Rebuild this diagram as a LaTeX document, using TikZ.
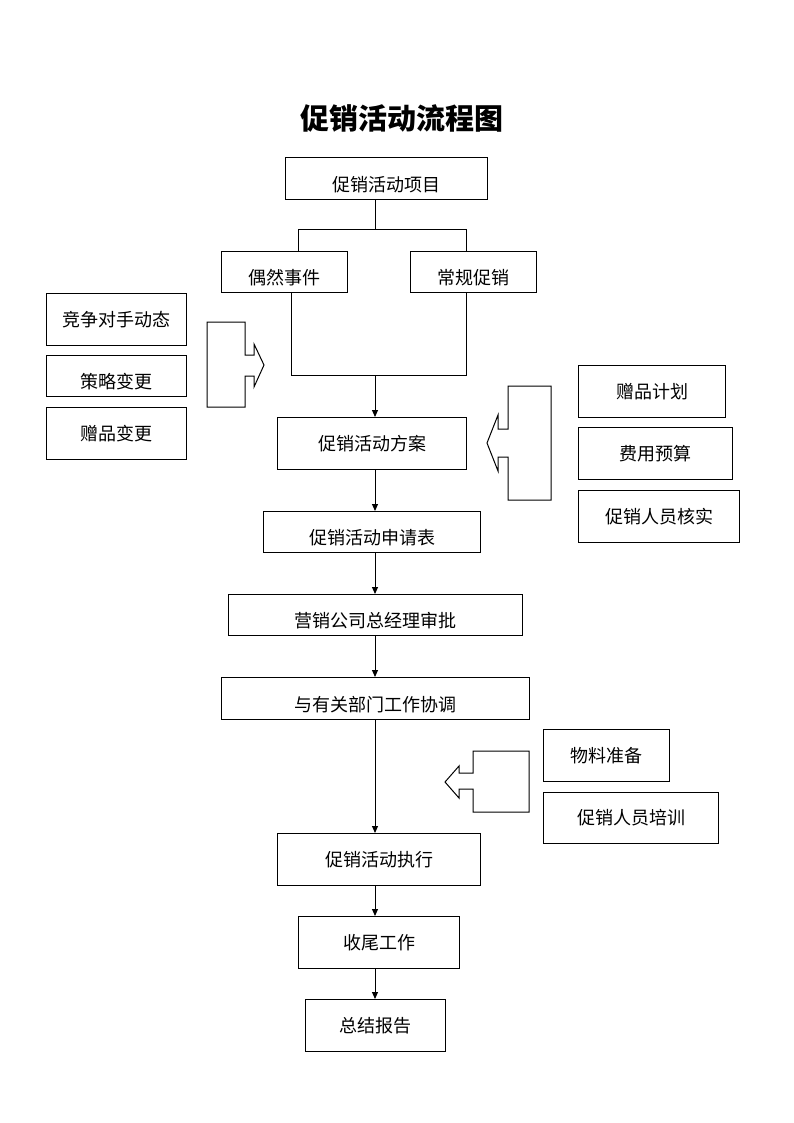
\documentclass[tikz,border=0pt]{standalone}
\usepackage{fontspec}
\setmainfont{Noto Sans CJK SC}
\usetikzlibrary{arrows.meta}
\tikzset{
    box/.style={draw, line width=1pt, inner sep=0pt, anchor=north west,
        font=\fontsize{18}{20}\selectfont},
    lowbox/.style={box, text height=27.8pt, text depth=2.2pt},
    flow/.style={line width=1pt},
    flowarrow/.style={line width=1pt, -{Triangle[length=7pt,width=6pt]}},
    blockarrow/.style={draw, line width=1pt, line join=miter},
}
\begin{document}
\begin{tikzpicture}[x=1pt,y=-1pt]
    \useasboundingbox (0,0) rectangle (794,1123);
    \node[font=\fontsize{29}{32}\selectfont\bfseries] (title) at (402,118) {促销活动流程图};
    \coordinate (col) at (375,0);
    % main column
    \node[lowbox, minimum width=202, minimum height=42] (proj) at (285,157) {促销活动项目};
    \node[lowbox, minimum width=126, minimum height=41] (odd) at (221,251) {偶然事件};
    \node[lowbox, minimum width=126, minimum height=41] (reg) at (410,251) {常规促销};
    \node[box, minimum width=189, minimum height=52] (plan) at (277,417) {促销活动方案};
    \node[lowbox, minimum width=217, minimum height=41] (apply) at (263,511) {促销活动申请表};
    \node[lowbox, minimum width=294, minimum height=41] (gm) at (228,594) {营销公司总经理审批};
    \node[lowbox, minimum width=308, minimum height=42] (coord) at (221,677) {与有关部门工作协调};
    \node[box, minimum width=203, minimum height=52] (exec) at (277,833) {促销活动执行};
    \node[box, minimum width=161, minimum height=52] (close) at (298,916) {收尾工作};
    \node[box, minimum width=140, minimum height=52] (report) at (305,999) {总结报告};
    % side boxes
    \node[box, minimum width=140, minimum height=52] (rival) at (46,293) {竞争对手动态};
    \node[lowbox, minimum width=140, minimum height=41] (strat) at (46,355) {策略变更};
    \node[box, minimum width=140, minimum height=52] (giftchg) at (46,407) {赠品变更};
    \node[box, minimum width=147, minimum height=52] (giftplan) at (578,365) {赠品计划};
    \node[box, minimum width=154, minimum height=52] (budget) at (578,427) {费用预算};
    \node[box, minimum width=161, minimum height=52] (staff) at (578,490) {促销人员核实};
    \node[box, minimum width=126, minimum height=52] (goods) at (543,729) {物料准备};
    \node[box, minimum width=175, minimum height=51] (train) at (543,792) {促销人员培训};
    % fork and join
    \coordinate (forkL) at (298,230);
    \coordinate (forkR) at (466,230);
    \coordinate (joinL) at (291,375);
    \coordinate (joinR) at (466,375);
    \draw[flow] (proj.south -| col) -- (col |- forkL);
    \draw[flow] (odd.north -| forkL) -- (forkL) -- (forkR) -- (reg.north -| forkR);
    \draw[flow] (odd.south -| joinL) -- (joinL) -- (joinR) -- (reg.south -| joinR);
    % arrows down the column
    \draw[flowarrow] (col |- joinL) -- (plan.north -| col);
    \draw[flowarrow] (plan.south -| col) -- (apply.north -| col);
    \draw[flowarrow] (apply.south -| col) -- (gm.north -| col);
    \draw[flowarrow] (gm.south -| col) -- (coord.north -| col);
    \draw[flowarrow] (coord.south -| col) -- (exec.north -| col);
    \draw[flowarrow] (exec.south -| col) -- (close.north -| col);
    \draw[flowarrow] (close.south -| col) -- (report.north -| col);
    % block arrows
    \draw[blockarrow] (207,322) -- (245,322) -- (245,355) -- (254,355) -- (254,344)
        -- (264,365) -- (254,387) -- (254,376) -- (245,376) -- (245,407) -- (207,407) -- cycle;
    \draw[blockarrow] (551,386) -- (508,386) -- (508,429) -- (498,429) -- (498,415)
        -- (487,443) -- (498,471) -- (498,457) -- (508,457) -- (508,500) -- (551,500) -- cycle;
    \draw[blockarrow] (529,751) -- (473,751) -- (473,773) -- (459,773) -- (459,766)
        -- (445,782) -- (459,798) -- (459,789) -- (473,789) -- (473,812) -- (529,812) -- cycle;
\end{tikzpicture}
\end{document}
